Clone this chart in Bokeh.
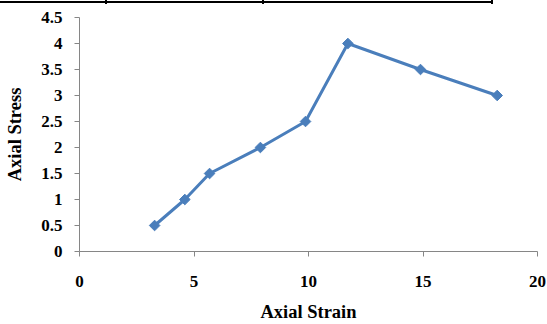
import math
from bokeh.plotting import figure
from bokeh.models import Range1d, FixedTicker
from bokeh.embed import file_html
from bokeh.resources import INLINE

# Data
strain = [3.28, 4.6, 5.68, 7.9, 9.87, 11.72, 14.89, 18.24]
stress = [0.5, 1.0, 1.5, 2.0, 2.5, 4.0, 3.5, 3.0]
x_ticks = [0, 5, 10, 15, 20]
y_ticks = [0, 0.5, 1, 1.5, 2, 2.5, 3, 3.5, 4, 4.5]
x_title = "Axial Strain"
y_title = "Axial Stress"

BLUE = "#4A7EBB"
AXIS = "#868686"
FONT = "Liberation Serif"

# table border above the chart, painted as CSS background behind a transparent border area
table_bg = ", ".join([
    "linear-gradient(#000,#000) 0px 1px / 493px 2px no-repeat",
    "linear-gradient(#000,#000) 105px 0px / 2px 4px no-repeat",
    "linear-gradient(#000,#000) 262px 0px / 2px 4px no-repeat",
    "linear-gradient(#000,#000) 491px 0px / 2px 4px no-repeat",
    "#fff",
])

p = figure(width=547, height=324, output_backend="svg", toolbar_location=None,
           x_range=Range1d(0, 20), y_range=Range1d(0, 4.5),
           min_border_left=79, min_border_right=10, min_border_top=17,
           min_border_bottom=73, outline_line_color=None,
           background_fill_color="white", border_fill_color=None,
           styles={"background": table_bg})
p.xgrid.visible = False
p.ygrid.visible = False

p.line(strain, stress, line_color=BLUE, line_width=3)
p.scatter(strain, stress, marker="square", size=7.5, angle=math.pi / 4,
          fill_color=BLUE, line_color=BLUE, line_width=1)

for ax in (p.xaxis[0], p.yaxis[0]):
    ax.axis_line_color = AXIS
    ax.axis_line_width = 1
    ax.major_tick_line_color = AXIS
    ax.major_tick_in = 0
    ax.major_tick_out = 5
    ax.minor_tick_line_color = None
    ax.major_label_text_font = FONT
    ax.major_label_text_font_style = "bold"
    ax.major_label_text_font_size = "17px"
    ax.major_label_text_color = "black"
    ax.axis_label_text_font = FONT
    ax.axis_label_text_font_style = "bold"
    ax.axis_label_text_font_size = "18.5px"
    ax.axis_label_text_color = "black"

p.xaxis[0].ticker = FixedTicker(ticks=x_ticks)
p.yaxis[0].ticker = FixedTicker(ticks=y_ticks)
p.xaxis[0].axis_label = x_title
p.yaxis[0].axis_label = y_title
p.xaxis[0].major_label_standoff = 19
p.yaxis[0].major_label_standoff = 12
p.xaxis[0].axis_label_standoff = 12
p.yaxis[0].axis_label_standoff = 13

open("out.html", "w").write(file_html(p, INLINE))
